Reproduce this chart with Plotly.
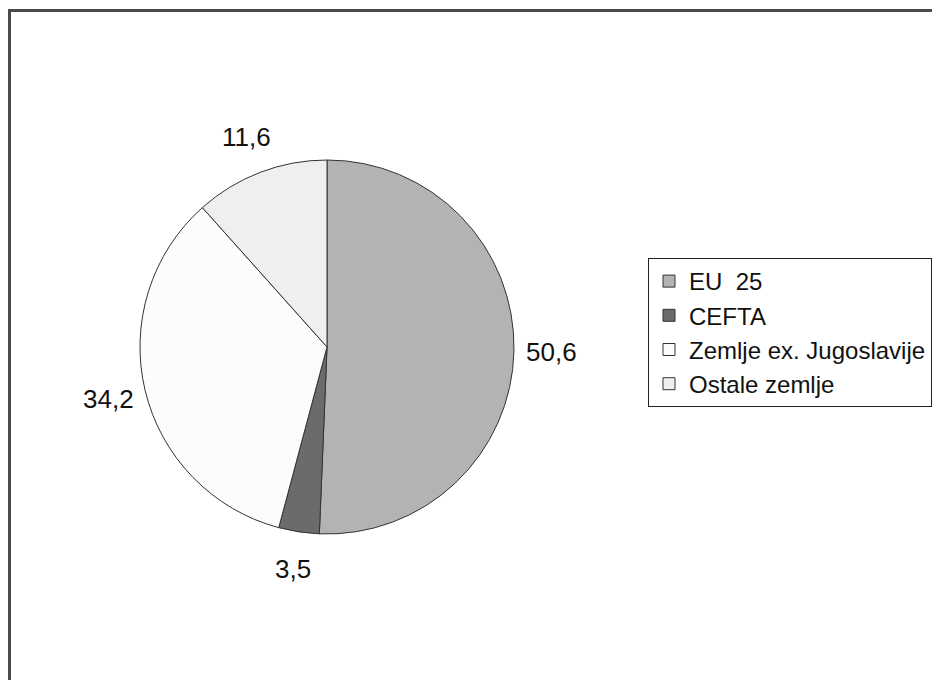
import math
import plotly.graph_objects as go

labels = ["EU  25", "CEFTA", "Zemlje ex. Jugoslavije", "Ostale zemlje"]
values = [50.6, 3.5, 34.2, 11.6]
value_text = ["50,6", "3,5", "34,2", "11,6"]
colors = ["#b3b3b3", "#6b6b6b", "#fcfcfc", "#efefef"]

W, H = 940, 680
OFF = 8  # page body margin
cx, cy, R = 327 - OFF, 347 - OFF, 187  # pie centre / radius in px
dom_x = [(cx - R) / W, (cx + R) / W]
dom_y = [1 - (cy + R) / H, 1 - (cy - R) / H]

fig = go.Figure()
fig.add_trace(go.Pie(
    labels=labels, values=values, sort=False, direction="clockwise", rotation=0,
    marker=dict(colors=colors, line=dict(color="#333333", width=1)),
    textinfo="none", hoverinfo="label+value",
    domain=dict(x=dom_x, y=dom_y),
))

# value labels placed around the pie from the cumulative values
total = sum(values)
label_r = 225
annotations = []
cum = 0
for v, t in zip(values, value_text):
    mid = (cum + v / 2) / total * 2 * math.pi
    cum += v
    px = cx + label_r * math.sin(mid)
    py = cy - label_r * math.cos(mid)
    annotations.append(dict(x=px / W, y=1 - py / H, xref="paper", yref="paper",
                            xanchor="center", yanchor="middle",
                            text=t, showarrow=False,
                            font=dict(size=26, color="#111111", family="Liberation Sans, Arial")))

fig.update_layout(
    width=W, height=H,
    margin=dict(l=0, r=0, t=0, b=0),
    paper_bgcolor="white", plot_bgcolor="white",
    font=dict(family="Liberation Sans, Arial", color="#111111"),
    showlegend=True,
    legend=dict(x=(648 - OFF) / W, y=1 - (258 - OFF) / H, xanchor="left", yanchor="top",
                bordercolor="#222222", borderwidth=1, bgcolor="white",
                font=dict(size=24, color="#111111"), itemclick=False,
                tracegroupgap=0),
    annotations=annotations,
    shapes=[
        dict(type="line", xref="paper", yref="paper", x0=1.5 / W, x1=1.5 / W, y0=0, y1=1 - 2 / H,
             line=dict(color="#4a4a4a", width=3)),
        dict(type="line", xref="paper", yref="paper", x0=0, x1=1, y0=1 - 2.5 / H, y1=1 - 2.5 / H,
             line=dict(color="#4a4a4a", width=3)),
    ],
)

fig.write_html("out.html")
